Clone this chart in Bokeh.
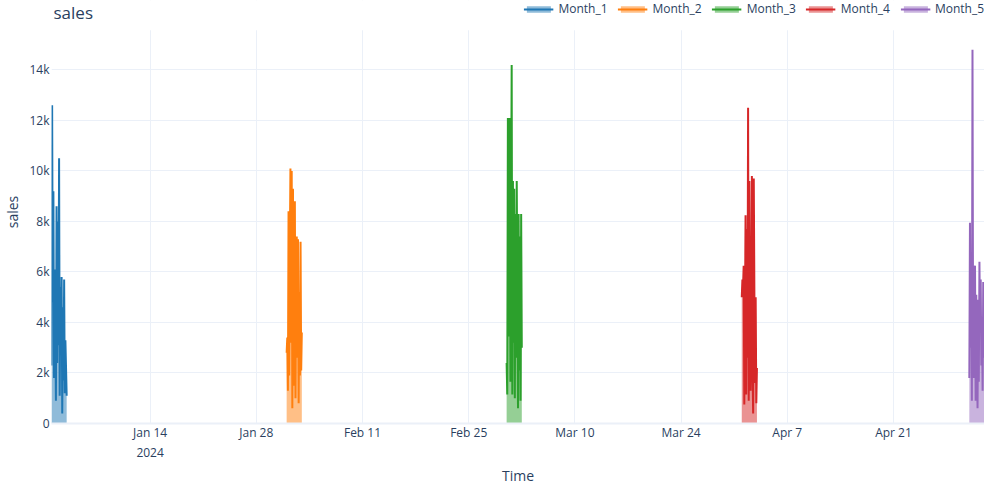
import pandas as pd
from bokeh.plotting import figure
from bokeh.models import (Range1d, FixedTicker, Legend, LegendItem, BoxAnnotation,
                          Label, Title)
from bokeh.embed import file_html
from bokeh.resources import INLINE

# series: sales readings every 2 hours over the first two days of each month
series_names = ["Month_1", "Month_2", "Month_3", "Month_4", "Month_5"]
month_starts = ["2024-01-01", "2024-02-01", "2024-03-01", "2024-04-01", "2024-05-01"]

month_1 = [2300, 12600, 4800, 9200, 1800, 6100, 3900, 900, 8600, 2400, 8000, 3100, 10500,
           1100, 5400, 2900, 5800, 400, 4600, 1700, 5700, 1200, 3300, 2200, 1100]
month_2 = [2800, 3400, 1300, 8400, 1900, 6900, 10100, 3200, 10000, 600, 9300, 4100, 1500,
           8800, 1000, 6200, 7400, 2600, 7300, 800, 5200, 1900, 7200, 2100, 3600]
month_3 = [2400, 1150, 12100, 3450, 9800, 12100, 1650, 7800, 14200, 1150, 9600, 3200, 9300,
           1000, 8300, 2600, 9600, 5100, 600, 8300, 2100, 7400, 900, 8300, 3000]
month_4 = [5000, 5700, 5400, 6250, 750, 4200, 8250, 1150, 7700, 2600, 12500, 900, 9600,
           4300, 1300, 3950, 9800, 2200, 400, 9700, 5000, 1600, 5000, 800, 2200]
month_5 = [1800, 7950, 3000, 6750, 900, 14800, 2800, 1800, 5900, 6250, 900, 5100, 2300,
           600, 4900, 1650, 6400, 3600, 5700, 2300, 4200, 1300, 5600, 2600, 3800]

colors = ["#1f77b4", "#ff7f0e", "#2ca02c", "#d62728", "#9467bd"]

x_tick_dates = ["2024-01-14", "2024-01-28", "2024-02-11", "2024-02-25",
                "2024-03-10", "2024-03-24", "2024-04-07", "2024-04-21"]
x_tick_labels = ["Jan 14\n2024", "Jan 28", "Feb 11", "Feb 25",
                 "Mar 10", "Mar 24", "Apr 7", "Apr 21"]
y_ticks = [0, 2000, 4000, 6000, 8000, 10000, 12000, 14000]
y_tick_labels = ["0", "2k", "4k", "6k", "8k", "10k", "12k", "14k"]

x_start = "2024-01-01 00:00"
x_end = "2024-05-03 00:00"
y_max = 15570   # top of the plotting area
y_top = 16750   # extra head room for the title / legend row

FONT = "Open Sans"
TEXT = "#2a3f5f"
GRID = "#ebf0f8"


def ms(d):
    return int(pd.Timestamp(d).value // 10**6)


p = figure(width=984, height=484, x_axis_type="datetime",
           x_range=Range1d(ms(x_start), ms(x_end)), y_range=Range1d(0, y_top),
           output_backend="svg", toolbar_location=None, tools="")
p.outline_line_color = None
p.min_border_left = 0
p.min_border_right = 0
p.min_border_top = 0
p.min_border_bottom = 0

x_ticks = [ms(d) for d in x_tick_dates]
p.xaxis.ticker = FixedTicker(ticks=x_ticks)
p.xaxis.major_label_overrides = dict(zip(x_ticks, x_tick_labels))
p.yaxis.ticker = FixedTicker(ticks=y_ticks)
p.yaxis.major_label_overrides = dict(zip(y_ticks, y_tick_labels))

p.yaxis.axis_label = "sales"
for ax in p.axis:
    ax.axis_label_text_font = FONT
    ax.axis_label_text_font_size = "14px"
    ax.axis_label_text_font_style = "normal"
    ax.axis_label_text_color = TEXT
    ax.major_label_text_font = FONT
    ax.major_label_text_font_size = "12px"
    ax.major_label_text_color = TEXT
    ax.major_tick_line_color = None
    ax.minor_tick_line_color = None
    ax.major_tick_out = 0
    ax.major_tick_in = 0
p.yaxis.axis_line_color = None
p.xaxis.axis_line_color = GRID
p.xaxis.axis_line_width = 2
p.yaxis.major_label_standoff = 2
p.yaxis.axis_label_standoff = 4
p.xaxis.major_label_standoff = 0
p.grid.grid_line_color = GRID

# x axis title as a plain title row under the axis
p.add_layout(Title(text="Time", align="center", text_font=FONT, text_font_size="14px",
                   text_font_style="normal", text_color=TEXT, standoff=0), "below")

items = []
for name, start, vals, c in zip(series_names, month_starts,
                                [month_1, month_2, month_3, month_4, month_5], colors):
    ts = pd.date_range(start, periods=len(vals), freq="2h")
    a = p.varea(x=ts, y1=0, y2=vals, fill_color=c, fill_alpha=0.5)
    l = p.line(x=ts, y=vals, line_color=c, line_width=2)
    items.append(LegendItem(label=name, renderers=[a, l]))

# blank out the head room so it reads like a title row
p.add_layout(BoxAnnotation(bottom=y_max, fill_color="white", fill_alpha=1,
                           line_color=None))
p.add_layout(Label(x=ms(x_start), y=y_top, text="sales", x_offset=2,
                   text_font=FONT, text_font_size="17px", text_color=TEXT,
                   text_baseline="top"))

legend = Legend(items=items, orientation="horizontal", location="top_right")
legend.label_text_font = FONT
legend.label_text_font_size = "12px"
legend.label_text_color = TEXT
legend.glyph_width = 30
legend.glyph_height = 8
legend.label_standoff = 5
legend.spacing = 10
legend.padding = 0
legend.margin = 0
legend.border_line_color = None
legend.background_fill_alpha = 0
p.add_layout(legend)

open("out.html", "w").write(file_html(p, INLINE))
